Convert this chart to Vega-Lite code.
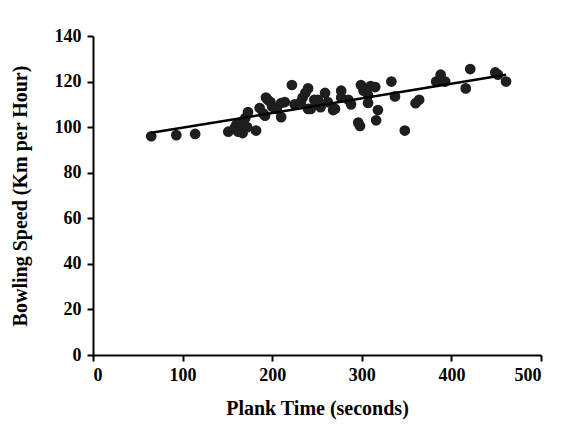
{
  "$schema": "https://vega.github.io/schema/vega-lite/v6.json",
  "width": 448,
  "height": 319,
  "padding": {"left": 10, "top": 27, "right": 16, "bottom": 8},
  "background": "white",
  "config": {
    "view": {"stroke": null},
    "font": "Liberation Serif",
    "axis": {
      "grid": false,
      "domainColor": "black",
      "domainWidth": 2,
      "tickColor": "black",
      "tickWidth": 2,
      "tickSize": 6,
      "labelFont": "Liberation Serif",
      "labelFontWeight": "bold",
      "labelFontSize": 18,
      "labelColor": "black",
      "titleFont": "Liberation Serif",
      "titleFontWeight": "bold",
      "titleFontSize": 20,
      "titleColor": "black"
    }
  },
  "datasets": {
    "points": [
      {"plank": 65, "speed": 96},
      {"plank": 93, "speed": 96.5},
      {"plank": 114, "speed": 97},
      {"plank": 151, "speed": 98},
      {"plank": 158, "speed": 99.6},
      {"plank": 162, "speed": 98},
      {"plank": 167, "speed": 97.4},
      {"plank": 165, "speed": 102},
      {"plank": 160, "speed": 101},
      {"plank": 172, "speed": 100},
      {"plank": 170, "speed": 104},
      {"plank": 173, "speed": 106.6},
      {"plank": 182, "speed": 98.5},
      {"plank": 186, "speed": 108.4},
      {"plank": 190, "speed": 106},
      {"plank": 192, "speed": 105},
      {"plank": 193, "speed": 113},
      {"plank": 195, "speed": 112},
      {"plank": 198, "speed": 111},
      {"plank": 200, "speed": 109},
      {"plank": 205, "speed": 108},
      {"plank": 210, "speed": 110.6},
      {"plank": 210, "speed": 104.4},
      {"plank": 214, "speed": 111},
      {"plank": 222, "speed": 118.5},
      {"plank": 225, "speed": 110},
      {"plank": 232, "speed": 111},
      {"plank": 234, "speed": 113},
      {"plank": 237, "speed": 115},
      {"plank": 240, "speed": 117},
      {"plank": 240, "speed": 108},
      {"plank": 243, "speed": 108},
      {"plank": 247, "speed": 112},
      {"plank": 251, "speed": 112},
      {"plank": 254, "speed": 108.8},
      {"plank": 259, "speed": 115},
      {"plank": 262, "speed": 111},
      {"plank": 268, "speed": 107.5},
      {"plank": 270, "speed": 108},
      {"plank": 277, "speed": 116},
      {"plank": 277, "speed": 113},
      {"plank": 285, "speed": 112},
      {"plank": 288, "speed": 110},
      {"plank": 296, "speed": 102},
      {"plank": 298, "speed": 100.5},
      {"plank": 299, "speed": 118.5},
      {"plank": 302, "speed": 116},
      {"plank": 307, "speed": 110.6},
      {"plank": 307, "speed": 114},
      {"plank": 310, "speed": 118},
      {"plank": 315, "speed": 117.6},
      {"plank": 316, "speed": 103},
      {"plank": 318, "speed": 107.5},
      {"plank": 333, "speed": 120},
      {"plank": 337, "speed": 113.5},
      {"plank": 348, "speed": 98.5},
      {"plank": 360, "speed": 110.5},
      {"plank": 364, "speed": 112},
      {"plank": 383, "speed": 120},
      {"plank": 388, "speed": 123},
      {"plank": 393, "speed": 120},
      {"plank": 416, "speed": 117},
      {"plank": 421, "speed": 125.5},
      {"plank": 449, "speed": 124},
      {"plank": 452, "speed": 123},
      {"plank": 461, "speed": 120}
    ],
    "fit": [
      {"plank": 65, "speed": 97.5},
      {"plank": 461, "speed": 123}
    ]
  },
  "layer": [
    {
      "data": {"name": "points"},
      "mark": {"type": "circle", "size": 115, "color": "#1e1e1e", "opacity": 1},
      "encoding": {
        "x": {
          "field": "plank", "type": "quantitative",
          "scale": {"domain": [0, 500], "nice": false},
          "axis": {"values": [0, 100, 200, 300, 400, 500], "title": "Plank Time (seconds)", "labelPadding": 5, "titlePadding": 14}
        },
        "y": {
          "field": "speed", "type": "quantitative",
          "scale": {"domain": [0, 140], "nice": false},
          "axis": {"values": [0, 20, 40, 60, 80, 100, 120, 140], "title": "Bowling Speed (Km per Hour)", "labelPadding": 6, "titlePadding": 24}
        }
      }
    },
    {
      "data": {"name": "fit"},
      "mark": {"type": "line", "color": "black", "strokeWidth": 2.5},
      "encoding": {
        "x": {"field": "plank", "type": "quantitative"},
        "y": {"field": "speed", "type": "quantitative"}
      }
    }
  ]
}
